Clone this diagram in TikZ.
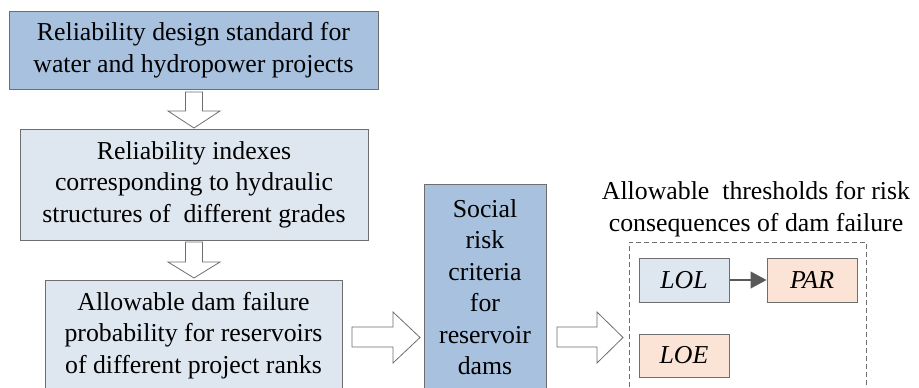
\documentclass[tikz,border=0pt]{standalone}
\usepackage{fontspec}
\setmainfont{Liberation Serif}
\usetikzlibrary{positioning, arrows.meta}

\definecolor{boxblue}{HTML}{A7C1DE}
\definecolor{boxpale}{HTML}{DEE6EF}
\definecolor{boxpeach}{HTML}{FBE4D6}
\definecolor{edgegray}{HTML}{6E6E6E}

\begin{document}
\begin{tikzpicture}[
    x=1pt, y=-1pt,
    >={Triangle[length=16pt, width=17pt]},
    font=\fontsize{25.8}{31.5}\selectfont,
    box/.style={rectangle, draw=edgegray, line width=1pt, align=center, inner sep=0pt},
    dark/.style={box, fill=boxblue},
    pale/.style={box, fill=boxpale},
    small/.style={box, minimum width=90pt, minimum height=44pt, font=\fontsize{25.8}{31.5}\selectfont\itshape},
    group/.style={rectangle, draw=edgegray, line width=0.8pt, dash pattern=on 5pt off 3pt},
    hollow/.style={draw=edgegray, fill=white, line width=0.8pt, line join=miter}
]

    % --- Area visivel ---
    \useasboundingbox (0,0) rectangle (919,388);
    \clip (0,0) rectangle (919,388);

    % --- Coluna da esquerda ---
    \node[dark, minimum width=369pt, minimum height=78pt] (std) at (193.5,50)
        {Reliability design standard for\\water and hydropower projects};
    \node[pale, minimum width=348pt, minimum height=111pt] (idx) at (194,184.5)
        {Reliability indexes\\corresponding to hydraulic\\structures of\ \ different grades};
    \node[pale, minimum width=297pt, minimum height=111pt] (prob) at (193.5,335.5)
        {Allowable dam failure\\probability for reservoirs\\of different project ranks};

    % --- Criterio social ---
    \node[dark, minimum width=122pt, inner ysep=15pt, anchor=north] (soc) at (485,184)
        {Social\\risk\\criteria\\for\\reservoir\\dams};

    % --- Limiares admissiveis ---
    \node[align=center, inner sep=0pt] (title) at (756,209)
        {Allowable\ \ thresholds for risk\\consequences of dam failure};
    \node[group, minimum width=237pt, minimum height=170pt, anchor=north] (grp) at (747.5,242) {};
    \node[small, fill=boxpale] (lol) at (684,280) {LOL};
    \node[small, fill=boxpeach] (par) at (812,280) {PAR};
    \node[small, fill=boxpeach, minimum height=43pt] (loe) at (684,355.5) {LOE};

    \draw[->, draw=black!65, fill=black!80, line width=1.2pt] (lol) -- (par);

    % --- Setas vazadas ---
    \coordinate (d1s) at (194,92);   \coordinate (d1e) at (194,128);
    \coordinate (d2s) at (194,242);  \coordinate (d2e) at (194,278);
    \coordinate (r1s) at (352,337);  \coordinate (r1e) at (420,337.5);
    \coordinate (r2s) at (557,337);  \coordinate (r2e) at (623,337.5);

    \draw[hollow] (d1s) ++(-8.5,0) -- ++(0,19) -- ++(-17.5,0) -- (d1e)
        -- ++(26,-17) -- ++(-17.5,0) -- ++(0,-19) -- cycle;   % std -> idx
    \draw[hollow] (d2s) ++(-8.5,0) -- ++(0,20) -- ++(-17.5,0) -- (d2e)
        -- ++(26,-16) -- ++(-17.5,0) -- ++(0,-20) -- cycle;   % idx -> prob
    \draw[hollow] (r1s) ++(0,-10) -- ++(41,0) -- ++(0,-15) -- (r1e)
        -- ++(-27,25.5) -- ++(0,-16) -- ++(-41,0) -- cycle;    % prob -> soc
    \draw[hollow] (r2s) ++(0,-10) -- ++(40,0) -- ++(0,-15) -- (r2e)
        -- ++(-26,25.5) -- ++(0,-16) -- ++(-40,0) -- cycle;   % soc -> grp

\end{tikzpicture}
\end{document}
